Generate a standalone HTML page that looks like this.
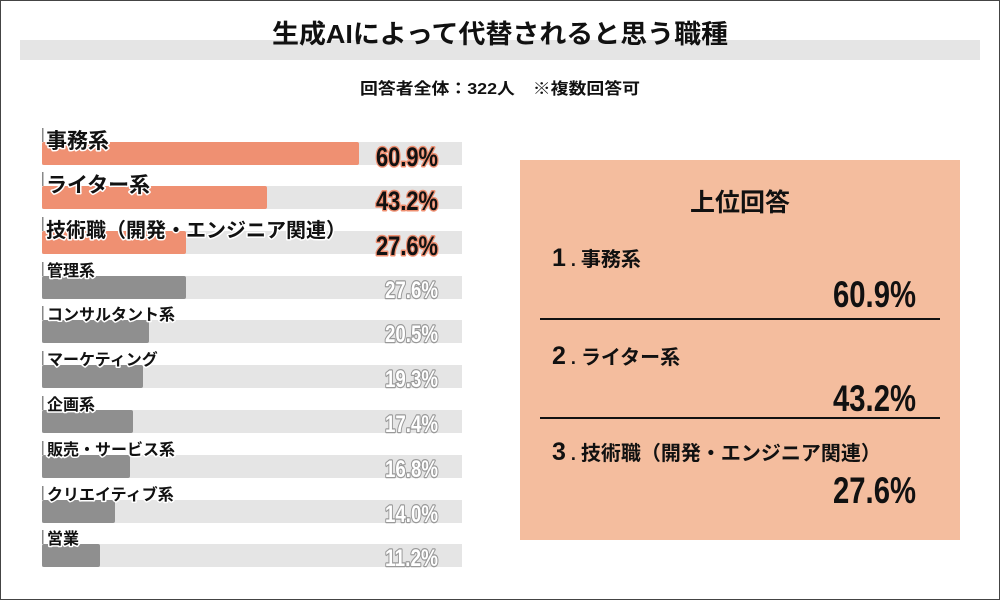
<!DOCTYPE html><html><head><meta charset="utf-8"><style>body{margin:0}svg{display:block}</style></head><body>
<svg width="1000" height="600" xmlns="http://www.w3.org/2000/svg" font-family="'Liberation Sans','Noto Sans CJK JP',sans-serif">
<rect x="0.5" y="0.5" width="999" height="599" fill="#fff" stroke="#444"/>
<rect x="20" y="40" width="960" height="20" fill="#e5e5e5"/>
<text x="500" y="43" font-size="26" font-weight="bold" text-anchor="middle" fill="#111" textLength="456" lengthAdjust="spacingAndGlyphs">生成AIによって代替されると思う職種</text>
<text x="500" y="94" font-size="16" font-weight="bold" text-anchor="middle" fill="#111" textLength="280" lengthAdjust="spacingAndGlyphs">回答者全体：322人　※複数回答可</text>
<g>
<rect x="42" y="142" width="420" height="23" fill="#e5e5e5"/><rect x="42" y="142" width="317" height="23" rx="2" fill="#ef9072"/>
<rect x="42" y="186" width="420" height="23" fill="#e5e5e5"/><rect x="42" y="186" width="225" height="23" rx="2" fill="#ef9072"/>
<rect x="42" y="231" width="420" height="23" fill="#e5e5e5"/><rect x="42" y="231" width="144" height="23" rx="2" fill="#ef9072"/>
<rect x="42" y="276" width="420" height="23" fill="#e5e5e5"/><rect x="42" y="276" width="144" height="23" rx="2" fill="#8f8f8f"/>
<rect x="42" y="320" width="420" height="23" fill="#e5e5e5"/><rect x="42" y="320" width="107" height="23" rx="2" fill="#8f8f8f"/>
<rect x="42" y="365" width="420" height="23" fill="#e5e5e5"/><rect x="42" y="365" width="101" height="23" rx="2" fill="#8f8f8f"/>
<rect x="42" y="410" width="420" height="23" fill="#e5e5e5"/><rect x="42" y="410" width="91" height="23" rx="2" fill="#8f8f8f"/>
<rect x="42" y="455" width="420" height="23" fill="#e5e5e5"/><rect x="42" y="455" width="88" height="23" rx="2" fill="#8f8f8f"/>
<rect x="42" y="500" width="420" height="23" fill="#e5e5e5"/><rect x="42" y="500" width="73" height="23" rx="2" fill="#8f8f8f"/>
<rect x="42" y="544" width="420" height="23" fill="#e5e5e5"/><rect x="42" y="544" width="58" height="23" rx="2" fill="#8f8f8f"/>
</g>
<g fill="#888"><rect x="42" y="128" width="1.5" height="14"/><rect x="42" y="172" width="1.5" height="14"/><rect x="42" y="217" width="1.5" height="14"/><rect x="42" y="262" width="1.5" height="14"/><rect x="42" y="306" width="1.5" height="14"/><rect x="42" y="351" width="1.5" height="14"/><rect x="42" y="396" width="1.5" height="14"/><rect x="42" y="441" width="1.5" height="14"/><rect x="42" y="486" width="1.5" height="14"/><rect x="42" y="530" width="1.5" height="14"/></g>
<g font-weight="bold" fill="#111" stroke="#fff" stroke-width="3" paint-order="stroke" stroke-linejoin="round">
<text x="46" y="148" font-size="21">事務系</text>
<text x="46" y="192" font-size="21">ライター系</text>
<text x="46" y="237" font-size="20">技術職（開発・エンジニア関連）</text>
<g font-size="16"><text x="47" y="276">管理系</text><text x="47" y="320">コンサルタント系</text><text x="47" y="365">マーケティング</text><text x="47" y="410">企画系</text><text x="47" y="455">販売・サービス系</text><text x="47" y="500">クリエイティブ系</text><text x="47" y="544">営業</text></g>
</g>
<g font-weight="bold" paint-order="stroke" stroke-linejoin="round" lengthAdjust="spacingAndGlyphs">
<g font-size="27" fill="#111" stroke="#ef9072" stroke-width="3">
<text x="376" y="166" textLength="62" lengthAdjust="spacingAndGlyphs">60.9%</text>
<text x="376" y="210" textLength="62" lengthAdjust="spacingAndGlyphs">43.2%</text>
<text x="376" y="255" textLength="62" lengthAdjust="spacingAndGlyphs">27.6%</text></g>
<g font-size="24" fill="#fff" stroke="#999" stroke-width="2.5">
<text x="385" y="298" textLength="53" lengthAdjust="spacingAndGlyphs">27.6%</text>
<text x="385" y="342" textLength="53" lengthAdjust="spacingAndGlyphs">20.5%</text>
<text x="385" y="387" textLength="53" lengthAdjust="spacingAndGlyphs">19.3%</text>
<text x="385" y="432" textLength="53" lengthAdjust="spacingAndGlyphs">17.4%</text>
<text x="385" y="477" textLength="53" lengthAdjust="spacingAndGlyphs">16.8%</text>
<text x="385" y="522" textLength="53" lengthAdjust="spacingAndGlyphs">14.0%</text>
<text x="385" y="566" textLength="53" lengthAdjust="spacingAndGlyphs">11.2%</text></g>
</g>
<rect x="520" y="160" width="440" height="380" fill="#f4bd9e"/>
<g fill="#111" font-weight="bold">
<text x="740" y="211" font-size="25" text-anchor="middle">上位回答</text>
<text x="552" y="266" font-size="25">1<tspan font-size="18"> . </tspan><tspan font-size="20">事務系</tspan></text>
<text x="552" y="364" font-size="25">2<tspan font-size="18"> . </tspan><tspan font-size="20">ライター系</tspan></text>
<text x="552" y="460" font-size="25">3<tspan font-size="18"> . </tspan><tspan font-size="20">技術職（開発・エンジニア関連）</tspan></text>
<g font-size="37"><text x="833" y="307" textLength="83" lengthAdjust="spacingAndGlyphs">60.9%</text><text x="833" y="411" textLength="83" lengthAdjust="spacingAndGlyphs">43.2%</text><text x="833" y="503" textLength="83" lengthAdjust="spacingAndGlyphs">27.6%</text></g>
</g>
<rect x="540" y="318" width="400" height="2" fill="#111"/>
<rect x="540" y="417" width="400" height="2" fill="#111"/>
</svg></body></html>
